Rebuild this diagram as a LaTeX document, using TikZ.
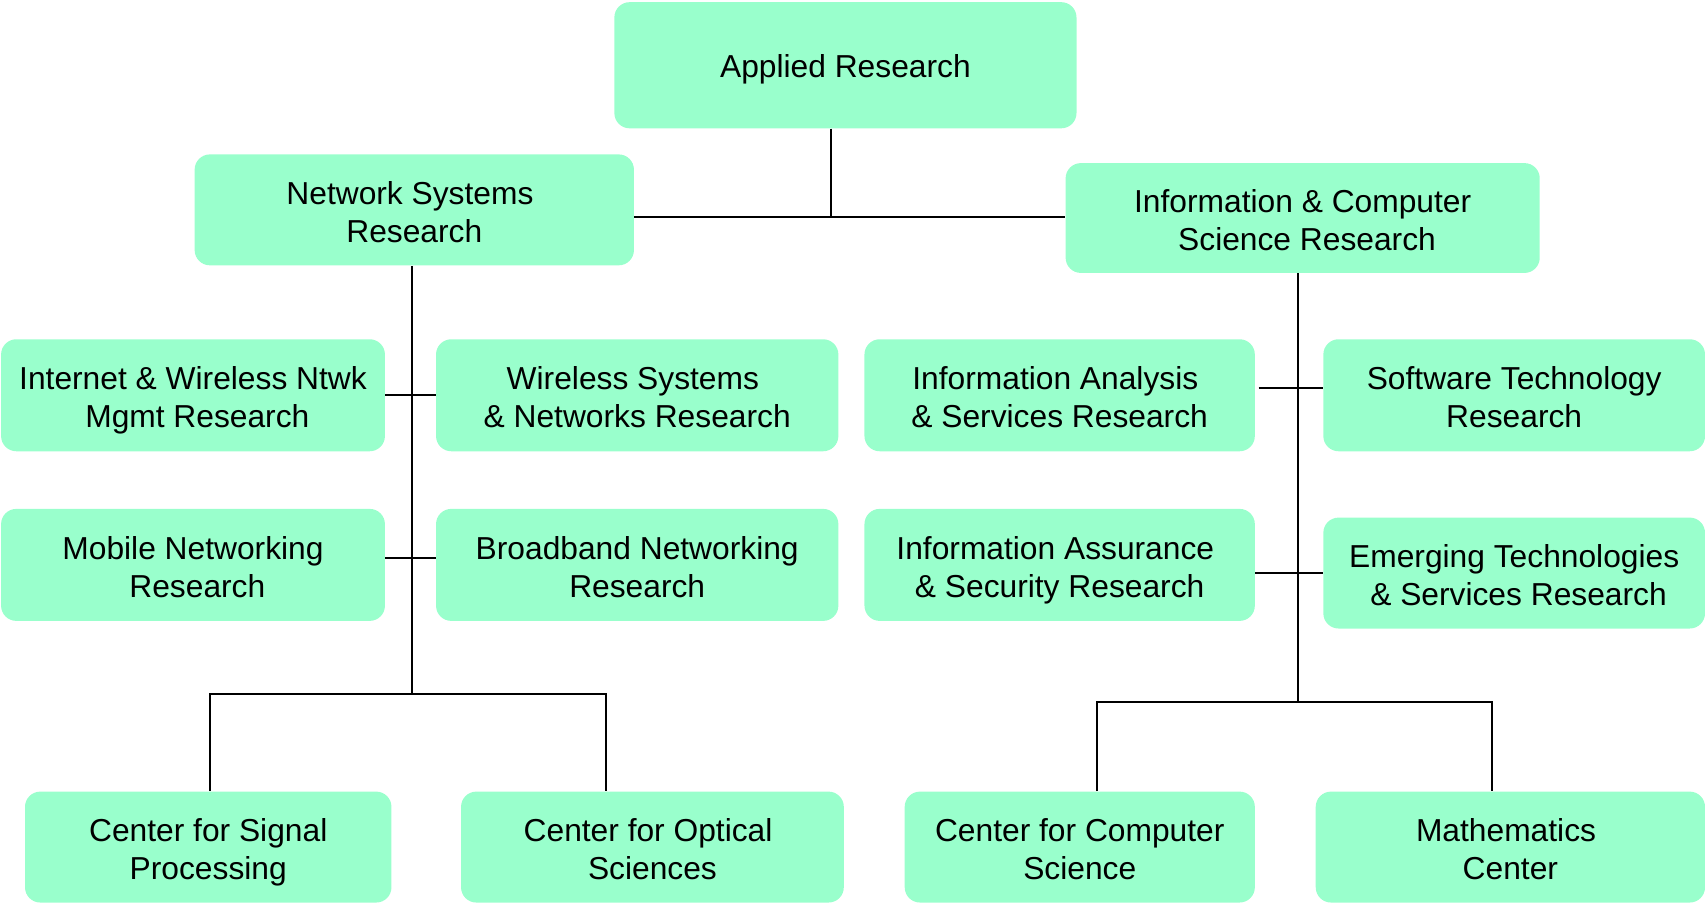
\documentclass[tikz,border=0pt]{standalone}
\usepackage{fontspec}
\setmainfont{Liberation Sans}
\definecolor{boxfill}{HTML}{99FFCC}
\newcommand\lnstrut{\rule[-0.212em]{0pt}{1.117em}}
\newcommand\firststrut{\rule[-0.212em]{0pt}{1.28em}}
\newcommand\onestrut{\rule[-0.212em]{0pt}{1.17em}}
\newcommand\padsp{\rule{4pt}{0pt}}
\newcommand\twol[2]{\firststrut#1\\#2\lnstrut}
\begin{document}
\begin{tikzpicture}[x=0.5pt,y=-0.5pt,
  box/.style={fill=boxfill, draw=none, rounded corners=7pt, align=center,
    inner sep=0pt, font=\fontsize{14.6pt}{17.5pt}\selectfont},
  link/.style={draw=black, line width=0.9pt}]
\useasboundingbox (0,0) rectangle (1568,830);
% level 0
\node[box, minimum width={425*0.5pt}, minimum height={116*0.5pt}] (ar) at (777.5,60) {\onestrut Applied Research};
% level 1
\node[box, minimum width={404*0.5pt}, minimum height={102*0.5pt}] (nsr) at (381,193) {\twol{Network Systems\padsp}{Research}};
\node[box, minimum width={436*0.5pt}, minimum height={101*0.5pt}] (ics) at (1198,200.5) {\twol{Information \& Computer}{\padsp Science Research}};
% left groups
\node[box, minimum width={353*0.5pt}, minimum height={103*0.5pt}] (iw) at (177.5,363.5) {\twol{Internet \& Wireless Ntwk}{\padsp Mgmt Research}};
\node[box, minimum width={370*0.5pt}, minimum height={103*0.5pt}] (ws) at (586,363.5) {\twol{Wireless Systems\padsp}{\& Networks Research}};
\node[box, minimum width={353*0.5pt}, minimum height={103*0.5pt}] (mn) at (177.5,519.5) {\twol{Mobile Networking}{\padsp Research}};
\node[box, minimum width={370*0.5pt}, minimum height={103*0.5pt}] (bn) at (586,519.5) {\twol{Broadband Networking}{Research}};
% right groups
\node[box, minimum width={359*0.5pt}, minimum height={103*0.5pt}] (ias) at (974.5,363.5) {\twol{Information Analysis\padsp}{\& Services Research}};
\node[box, minimum width={351*0.5pt}, minimum height={103*0.5pt}] (st) at (1392.5,363.5) {\twol{Software Technology}{Research}};
\node[box, minimum width={359*0.5pt}, minimum height={103*0.5pt}] (iasr) at (974.5,519.5) {\twol{Information Assurance\padsp}{\& Security Research}};
\node[box, minimum width={351*0.5pt}, minimum height={102*0.5pt}] (et) at (1392.5,527) {\twol{Emerging Technologies}{\padsp\& Services Research}};
% bottom
\node[box, minimum width={337*0.5pt}, minimum height={102*0.5pt}] (csp) at (191.5,779) {\twol{Center for Signal}{Processing}};
\node[box, minimum width={352*0.5pt}, minimum height={102*0.5pt}] (cos) at (600,779) {\twol{Center for Optical\padsp}{Sciences}};
\node[box, minimum width={322*0.5pt}, minimum height={102*0.5pt}] (ccs) at (993,779) {\twol{Center for Computer}{Science}};
\node[box, minimum width={358*0.5pt}, minimum height={102*0.5pt}] (mc) at (1389,779) {\twol{Mathematics\padsp}{Center}};
% junction coordinates
\coordinate (jt) at (764,200);
\coordinate (lt) at (379,638);
\coordinate (lL) at (193,638);
\coordinate (lR) at (557,638);
\coordinate (rt) at (1194,646);
\coordinate (rL) at (1009,646);
\coordinate (rR) at (1372,646);
% connectors top
\draw[link] (ar.south -| jt) -- (jt);
\draw[link] (nsr.east |- jt) -- (ics.west |- jt);
% left trunk
\draw[link] (nsr.south -| lt) -- (lt);
\draw[link] (iw.east) -- (ws.west);
\draw[link] (mn.east |- 0,513) -- (bn.west |- 0,513);
\draw[link] (csp.north -| lL) -- (lL) -- (lR) -- (cos.north -| lR);
% right trunk
\draw[link] (ics.south -| rt) -- (rt);
\draw[link] ([xshift=1.5pt]ias.east |- 0,357) -- (st.west |- 0,357);
\draw[link] (iasr.east |- et.west) -- (et.west);
\draw[link] (ccs.north -| rL) -- (rL) -- (rR) -- (mc.north -| rR);
\end{tikzpicture}
\end{document}
